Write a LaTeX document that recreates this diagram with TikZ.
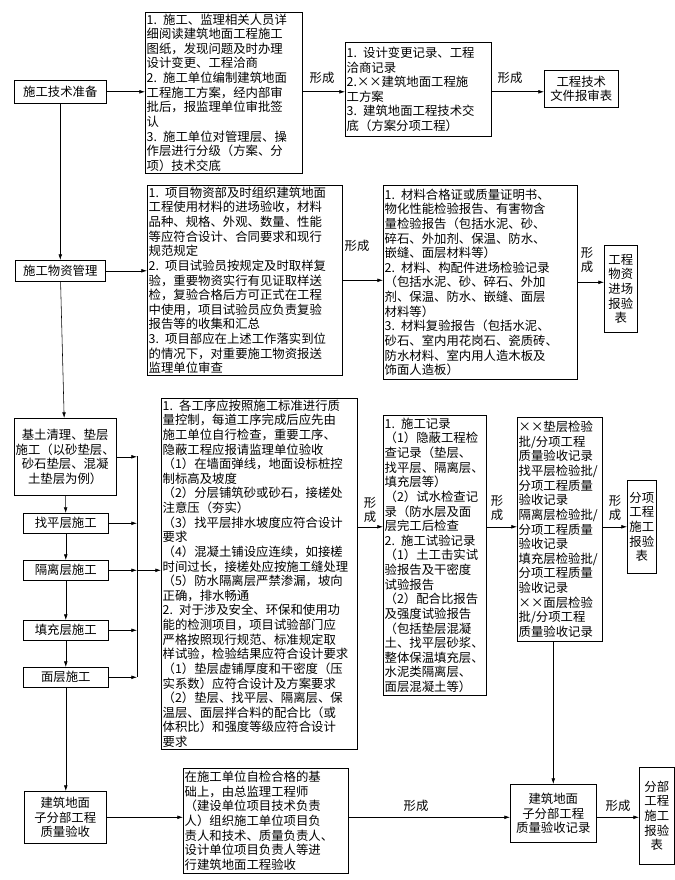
\documentclass[tikz,border=0pt]{standalone}
\usepackage{fontspec}
\setmainfont{Noto Sans CJK SC}
\usetikzlibrary{arrows.meta}
\begin{document}
\begin{tikzpicture}[x=0.025cm, y=-0.025cm,
  box/.style={draw, inner sep=1pt, anchor=north west, font=\fontsize{8.8}{10.4}\selectfont},
  lbox/.style={box, align=left},
  cbox/.style={box, align=center},
  lab/.style={font=\fontsize{8.8}{10.4}\selectfont, inner sep=0pt, align=center},
  arr/.style={-{Latex[length=4pt,width=2.6pt]}}]
\useasboundingbox (0,0) rectangle (675,880);

% Row 1: technical preparation
\node[cbox, minimum width=92*0.025cm, minimum height=23*0.025cm] (prep) at (14,80) {施工技术准备};
\node[lbox, text width=157*0.025cm-2pt, minimum height=158*0.025cm] (tA) at (145,12) {1. 施工、监理相关人员详\\细阅读建筑地面工程施工\\图纸，发现问题及时办理\\设计变更、工程洽商\\2. 施工单位编制建筑地面\\工程施工方案，经内部审\\批后，报监理单位审批签\\认\\3. 施工单位对管理层、操\\作层进行分级（方案、分\\项）技术交底};
\node[lbox, text width=146*0.025cm-2pt, minimum height=94*0.025cm] (tB) at (345,42) {1. 设计变更记录、工程\\洽商记录\\2.××建筑地面工程施\\工方案\\3. 建筑地面工程技术交\\底（方案分项工程）};
\node[cbox, minimum width=74*0.025cm, minimum height=37*0.025cm] (tC) at (544,70) {工程技术\\文件报审表};
\draw[arr] (prep) -- (prep -| tA.west);
\draw[arr] (tA.east |- prep) -- (tB.west |- prep);
\draw[arr] (tB.east |- prep) -- (tC.west |- prep);
\node[lab] at (322,78) {形成};
\node[lab] at (510,78) {形成};

% Row 2: materials
\node[cbox, minimum width=90*0.025cm, minimum height=21*0.025cm] (mat) at (15,260) {施工物资管理};
\node[lbox, text width=195*0.025cm-2pt, minimum height=190*0.025cm] (mA) at (147,185) {1. 项目物资部及时组织建筑地面\\工程使用材料的进场验收，材料\\品种、规格、外观、数量、性能\\等应符合设计、合同要求和现行\\规范规定\\2. 项目试验员按规定及时取样复\\验，重要物资实行有见证取样送\\检，复验合格后方可正式在工程\\中使用，项目试验员应负责复验\\报告等的收集和汇总\\3. 项目部应在上述工作落实到位\\的情况下，对重要施工物资报送\\监理单位审查};
\node[lbox, text width=194*0.025cm-2pt, minimum height=194*0.025cm] (mB) at (383,185) {1. 材料合格证或质量证明书、\\物化性能检验报告、有害物含\\量检验报告（包括水泥、砂、\\碎石、外加剂、保温、防水、\\嵌缝、面层材料等）\\2. 材料、构配件进场检验记录\\（包括水泥、砂、碎石、外加\\剂、保温、防水、嵌缝、面层\\材料等）\\3. 材料复验报告（包括水泥、\\砂石、室内用花岗石、瓷质砖、\\防水材料、室内用人造木板及\\饰面人造板）};
\node[cbox, minimum width=33*0.025cm, minimum height=87*0.025cm] (mC) at (604,245) {工程\\物资\\进场\\报验\\表};
\draw[arr] (prep) -- (mat);
\draw[arr] (mat) -- (mat -| mA.west);
\draw[arr] (mA) -- (mA -| mB.west);
\draw[arr] (mB) -- (mB -| mC.west);
\node[lab] at (357,246) {形成};
\node[lab] at (587,260) {形\\成};

% Row 3: construction steps
\node[cbox, minimum width=101*0.025cm, minimum height=77*0.025cm] (base) at (14,418) {基土清理、垫层\\施工（以砂垫层、\\砂石垫层、混凝\\土垫层为例）};
\node[cbox, minimum width=85*0.025cm, minimum height=20*0.025cm] (lev) at (23,513) {找平层施工};
\node[cbox, minimum width=85*0.025cm, minimum height=20*0.025cm] (iso) at (23,560) {隔离层施工};
\node[cbox, minimum width=85*0.025cm, minimum height=20*0.025cm] (fill) at (23,620) {填充层施工};
\node[cbox, minimum width=85*0.025cm, minimum height=20*0.025cm] (surf) at (23,667) {面层施工};
\draw[arr] (mat) -- (base);
\draw[arr] (base) -- (lev);
\draw[arr] (lev) -- (iso);
\draw[arr] (iso) -- (fill);
\draw[arr] (fill) -- (surf);
\coordinate (bus) at (137,456);
\draw (bus) -- (bus |- surf);
\foreach \s in {base,lev,iso,fill,surf}
  \draw[arr] (\s.east |- \s) -- (bus |- \s);
\node[lbox, text width=196*0.025cm-2pt, minimum height=344*0.025cm] (cA) at (161,398) {1. 各工序应按照施工标准进行质\\量控制，每道工序完成后应先由\\施工单位自行检查，重要工序、\\隐蔽工程应报请监理单位验收\\（1）在墙面弹线，地面设标桩控\\制标高及坡度\\（2）分层铺筑砂或砂石，接槎处\\注意压（夯实）\\（3）找平层排水坡度应符合设计\\要求\\（4）混凝土铺设应连续，如接槎\\时间过长，接槎处应按施工缝处理\\（5）防水隔离层严禁渗漏，坡向\\正确，排水畅通\\2. 对于涉及安全、环保和使用功\\能的检测项目，项目试验部门应\\严格按照现行规范、标准规定取\\样试验，检验结果应符合设计要求\\（1）垫层虚铺厚度和干密度（压\\实系数）应符合设计及方案要求\\（2）垫层、找平层、隔离层、保\\温层、面层拌合料的配合比（或\\体积比）和强度等级应符合设计\\要求};
\draw[arr] (bus |- iso) -- (cA.west |- iso);
\node[lbox, text width=103*0.025cm-2pt, minimum height=280*0.025cm] (cB) at (383,415) {1. 施工记录\\（1）隐蔽工程检\\查记录（垫层、\\找平层、隔离层、\\填充层等）\\（2）试水检查记\\录（防水层及面\\层完工后检查\\2. 施工试验记录\\（1）土工击实试\\验报告及干密度\\试验报告\\（2）配合比报告\\及强度试验报告\\（包括垫层混凝\\土、找平层砂浆、\\整体保温填充层、\\水泥类隔离层、\\面层混凝土等）};
\node[lbox, text width=85*0.025cm-2pt, minimum height=224*0.025cm] (cC) at (517,417) {××垫层检验\\批/分项工程\\质量验收记录\\找平层检验批/\\分项工程质量\\验收记录\\隔离层检验批/\\分项工程质量\\验收记录\\填充层检验批/\\分项工程质量\\验收记录\\××面层检验\\批/分项工程\\质量验收记录};
\node[cbox, minimum width=29*0.025cm, minimum height=93*0.025cm] (cD) at (627,480) {分项\\工程\\施工\\报验\\表};
\draw[arr] (cA.east |- cD) -- (cB.west |- cD);
\draw[arr] (cB.east |- cD) -- (cC.west |- cD);
\draw[arr] (cC.east |- cD) -- (cD.west |- cD);
\node[lab] at (370,510) {形\\成};
\node[lab] at (497,508) {形\\成};
\node[lab] at (615,508) {形\\成};

% Row 4: sub-division acceptance
\node[cbox, minimum width=82*0.025cm, minimum height=52*0.025cm] (dA) at (24,791) {建筑地面\\子分部工程\\质量验收};
\node[lbox, text width=165*0.025cm-2pt, minimum height=105*0.025cm] (dB) at (183,768) {在施工单位自检合格的基\\础上，由总监理工程师\\（建设单位项目技术负责\\人）组织施工单位项目负\\责人和技术、质量负责人、\\设计单位项目负责人等进\\行建筑地面工程验收};
\node[cbox, minimum width=86*0.025cm, minimum height=58*0.025cm] (dC) at (510,784) {建筑地面\\子分部工程\\质量验收记录};
\node[cbox, minimum width=35*0.025cm, minimum height=97*0.025cm] (dD) at (639,767) {分部\\工程\\施工\\报验\\表};
\draw[arr] (surf) -- (surf |- dA.north);
\draw[arr] (cC.south -| dC.north) -- (dC.north);
\draw[arr] (dA) -- (dA -| dB.west);
\draw[arr] (dB.east |- dA) -- (dC.west |- dA);
\draw[arr] (dC.east |- dA) -- (dD.west |- dA);
\node[lab] at (416,806) {形成};
\node[lab] at (618,806) {形成};
\end{tikzpicture}
\end{document}
